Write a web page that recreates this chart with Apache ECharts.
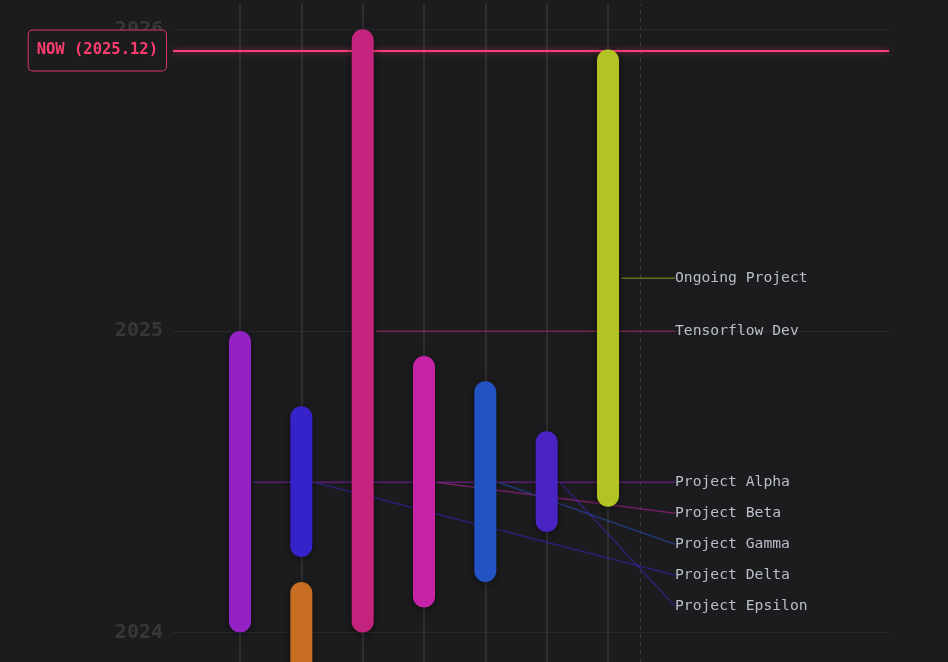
<!DOCTYPE html>
<html><head><meta charset="utf-8">
<style>html,body{margin:0;padding:0;background:#1c1c1e;overflow:hidden}#c{width:948px;height:934px}</style>
<script src="https://cdn.jsdelivr.net/npm/echarts@6/dist/echarts.min.js"></script>
</head><body><div id="c"></div>
<script>
const projectNames = ['Project Alpha','Project Beta','Project Gamma','Project Delta','Project Epsilon','Tensorflow Dev','Ongoing Project',''];
const lanes = [0, 3, 4, 1, 5, 2, 6, 1];
const startYears = [2024.0, 2024.083, 2024.167, 2024.25, 2024.333, 2024.0, 2024.417, 2023.5];
const endYears = [2025.0, 2024.917, 2024.833, 2024.75, 2024.667, 2026.0, 2025.933, 2024.167];
const barColors = ['#9421c4','#c423a8','#2352c4','#3523c9','#4a23c4','#c4237e','#b2c423','#c76e22'];
const laneValues = [0, 1, 2, 3, 4, 5, 6];
const yearTicks = [2024, 2025, 2026];
const nowValue = 2025.933;
const nowLabel = 'NOW (2025.12)';
const cutoffLane = 6.52;

const chart = echarts.init(document.getElementById('c'), null, {renderer: 'canvas'});
const MONO = '"DejaVu Sans Mono", "Liberation Mono", monospace';

function renderItem(params, api) {
  const lane = api.value(0), s = api.value(1), e = api.value(2);
  const top = api.coord([lane, e]);
  const bot = api.coord([lane, s]);
  const w = 22;
  const x = top[0] - w / 2;
  const h = bot[1] - top[1];
  const i = params.dataIndex;
  const children = [{
    type: 'rect', z2: 10,
    shape: {x: x, y: top[1], width: w, height: h, r: w / 2},
    style: {fill: barColors[i], shadowBlur: 8, shadowColor: 'rgba(0,0,0,0.45)', shadowOffsetY: 2}
  }];
  if (projectNames[i]) {
    children.push({
      type: 'rect', z2: 1,
      shape: {x: x + w + 2, y: Math.round(top[1] + h / 2), width: 0.5, height: 0.5},
      style: {fill: 'rgba(0,0,0,0)'},
      textContent: {
        z2: 20,
        style: {text: projectNames[i], fill: '#b8bfcb', font: '14.7px ' + MONO, lineHeight: 31,
                align: 'left', verticalAlign: 'middle'}
      },
      textConfig: {position: 'right', distance: 0}
    });
  }
  return {type: 'group', children: children};
}

const barData = projectNames.map((n, i) => ({
  value: [lanes[i], startYears[i], endYears[i]],
  labelLine: {show: !!n, lineStyle: {color: barColors[i], opacity: 0.5, width: 1.5}}
}));

const gridColor = '#2a2a2d';
chart.setOption({
  backgroundColor: '#1c1c1e',
  animation: false,
  grid: {left: 173, right: 59, top: 4, bottom: 0},
  xAxis: {type: 'value', min: -1.0924, max: 10.5815, show: false},
  yAxis: {
    type: 'value', min: 2023, max: 2026.084, interval: 1,
    axisLine: {show: false}, axisTick: {show: false},
    axisLabel: {
      color: '#38383b', fontSize: 20, fontWeight: 'bold', fontFamily: MONO, margin: 10,
      showMaxLabel: false,
      formatter: v => yearTicks.includes(v) ? String(v) : ''
    },
    splitLine: {lineStyle: {color: [gridColor, gridColor, gridColor, gridColor, 'rgba(0,0,0,0)'], width: 1}}
  },
  series: [
    {
      type: 'line', data: [], z: 1, silent: true,
      markLine: {
        z: 1,
        symbol: 'none', silent: true, animation: false,
        data: [
          ...laneValues.map(v => ({xAxis: v, lineStyle: {color: '#2f2f32', width: 2, type: 'solid'}, label: {show: false}})),
          {xAxis: cutoffLane, lineStyle: {color: '#38383b', width: 1, type: [4, 4]}, label: {show: false}},
          {
            yAxis: nowValue,
            lineStyle: {color: '#ff3d78', width: 2, type: 'solid', shadowBlur: 6, shadowColor: 'rgba(255,61,120,0.6)'},
            label: {
              show: true, position: 'start', distance: 7, formatter: nowLabel,
              color: '#ff3d6e', fontFamily: MONO, fontWeight: 'bold', fontSize: 15.5,
              backgroundColor: '#1c1c1e', borderColor: '#d8346a', borderWidth: 1, borderRadius: 4,
              padding: [12, 8, 12, 8]
            }
          }
        ]
      }
    },
    {
      type: 'custom', z: 10,
      renderItem: renderItem,
      encode: {x: 0, y: [1, 2]},
      data: barData,
      labelLine: {show: true, length2: 0},
      labelLayout: {x: 675, moveOverlap: 'shiftY'}
    }
  ]
});
</script></body></html>
